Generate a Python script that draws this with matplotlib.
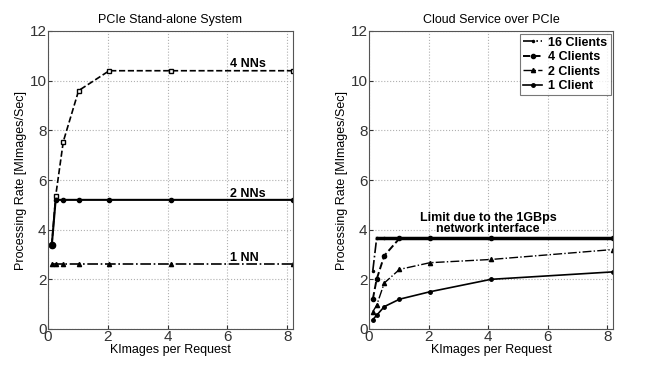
import matplotlib
matplotlib.use("Agg")
import matplotlib.pyplot as plt

plt.rcParams['font.family'] = ['Liberation Sans', 'DejaVu Sans']

x = [0.128, 0.256, 0.512, 1.024, 2.048, 4.096, 8.192]

# Left: PCIe stand-alone
nn4 = [3.4, 5.35, 7.55, 9.6, 10.4, 10.4, 10.4]
nn2 = [3.4, 5.2, 5.2, 5.2, 5.2, 5.2, 5.2]
nn1 = [2.6, 2.6, 2.6, 2.6, 2.6, 2.6, 2.6]

# Right: Cloud service
c16 = [2.35, 3.65, 3.65, 3.65, 3.65, 3.65, 3.65]
c4 = [1.2, 2.0, 2.95, 3.65, 3.65, 3.65, 3.65]
c2 = [0.7, 0.95, 1.85, 2.4, 2.67, 2.8, 3.2]
c1 = [0.38, 0.55, 0.9, 1.2, 1.5, 2.0, 2.3]
limit_x = [0.256, 8.192]
limit_y = [3.68, 3.68]

xticks = [0, 2, 4, 6, 8]
yticks = [0, 2, 4, 6, 8, 10, 12]

fig = plt.figure(figsize=(6.45, 3.71), dpi=100)
W, H = 645, 371
axL = fig.add_axes([48 / W, 1 - 329 / H, 245 / W, 298 / H])
axR = fig.add_axes([369 / W, 1 - 329 / H, 244 / W, 298 / H])

def style(ax, title):
    ax.set_xlim(0, 8.192)
    ax.set_ylim(0, 12)
    ax.set_xticks(xticks)
    ax.set_yticks(yticks)
    ax.grid(True, linestyle=':', color='#b0b0b0', linewidth=0.8)
    ax.tick_params(direction='in', labelsize=11, length=3, pad=1, colors='#333333')
    ax.set_title(title, fontsize=9, pad=6)
    ax.set_xlabel('KImages per Request', fontsize=9, labelpad=0)
    ax.set_ylabel('Processing Rate [MImages/Sec]', fontsize=9, labelpad=2)
    for s in ax.spines.values():
        s.set_color('#555555')
        s.set_linewidth(0.8)

style(axL, 'PCIe Stand-alone System')
style(axR, 'Cloud Service over PCIe')

k = 'black'
axL.plot(x, nn4, linestyle='--', color=k, lw=1.2, marker='s', ms=3, mfc='white', mec=k)
axL.plot(x, nn2, linestyle='-', color=k, lw=1.5, marker='o', ms=3)
axL.plot(x, nn1, linestyle='-.', color=k, lw=1.2, marker='^', ms=3)
axL.plot(x[:1], [3.4], 'o', color=k, ms=4.5)
axL.text(6.1, 10.55, '4 NNs', fontsize=9, fontweight='bold')
axL.text(6.1, 5.33, '2 NNs', fontsize=9, fontweight='bold')
axL.text(6.1, 2.75, '1 NN', fontsize=9, fontweight='bold')

axR.plot(limit_x, limit_y, '-', color=k, lw=2.5)
axR.plot(x, c16, linestyle='-.', color=k, lw=1.2, marker='.', ms=3, label='16 Clients')
axR.plot(x, c4, linestyle='--', color=k, lw=1.4, marker='o', ms=3, label='4 Clients')
axR.plot(x, c2, linestyle='-.', color=k, lw=1.0, marker='^', ms=3, label='2 Clients')
axR.plot(x, c1, linestyle='-', color=k, lw=1.2, marker='o', ms=2.5, label='1 Client')
axR.text(4.0, 3.8, 'Limit due to the 1GBps\nnetwork interface', fontsize=9,
         fontweight='bold', ha='center', va='bottom', linespacing=0.85)
leg = axR.legend(loc='upper right', prop={'weight': 'bold', 'size': 9},
                 frameon=True, fancybox=False, edgecolor='#555555', handlelength=1.5,
                 handletextpad=0.5, borderpad=0.25, labelspacing=0.2, borderaxespad=0.2)
leg.get_frame().set_linewidth(0.8)

fig.savefig('out.png', dpi=100)
